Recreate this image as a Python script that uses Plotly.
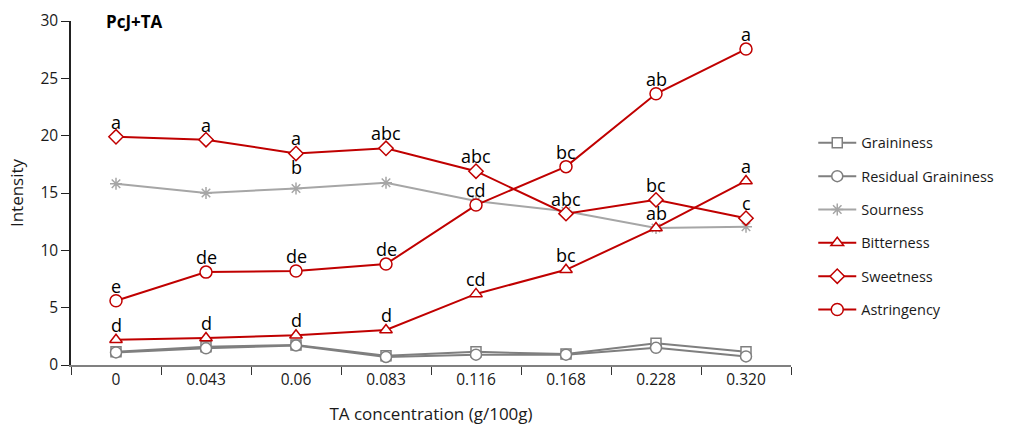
import plotly.graph_objects as go

categories = ["0", "0.043", "0.06", "0.083", "0.116", "0.168", "0.228", "0.320"]

graininess = [1.15, 1.6, 1.75, 0.8, 1.15, 0.95, 1.9, 1.15]
residual_graininess = [1.1, 1.45, 1.7, 0.7, 0.9, 0.9, 1.5, 0.75]
sourness = [15.8, 15.0, 15.4, 15.9, 14.3, 13.4, 11.95, 12.05]
bitterness = [2.2, 2.35, 2.6, 3.05, 6.2, 8.3, 11.95, 16.05]
sweetness = [19.9, 19.65, 18.45, 18.9, 16.9, 13.2, 14.4, 12.8]
astringency = [5.6, 8.1, 8.2, 8.8, 13.95, 17.3, 23.65, 27.55]

bitterness_letters = ["d", "d", "d", "d", "cd", "bc", "ab", "a"]
sweetness_letters = ["a", "a", "a", "abc", "abc", "abc", "bc", "c"]
astringency_letters = ["e", "de", "de", "de", "cd", "bc", "ab", "a"]
extra_label_cat = "0.06"
extra_label_text = "b"

RED = "#C00000"
GRAY = "#7F7F7F"
LGRAY = "#A6A6A6"
FONT = "Open Sans"
TXT = "#1a1a1a"

series = [
    ("Graininess", graininess, GRAY, "square", 10),
    ("Residual Graininess", residual_graininess, GRAY, "circle", 11),
    ("Sourness", sourness, LGRAY, "asterisk-open", 10),
    ("Bitterness", bitterness, RED, "triangle-up", 11),
    ("Sweetness", sweetness, RED, "diamond", 11),
    ("Astringency", astringency, RED, "circle", 12),
]

fig = go.Figure()
for i, (name, vals, col, sym, sz) in enumerate(series):
    fig.add_trace(go.Scatter(
        x=categories, y=vals, name=name, mode="lines+markers",
        legendgroup=f"g{i}",
        line=dict(color=col, width=2),
        marker=dict(symbol=sym, size=sz, color="white" if "asterisk" not in sym else col,
                    line=dict(color=col, width=1.5)),
    ))

annotations = []
for vals, letters in [(sweetness, sweetness_letters), (astringency, astringency_letters),
                      (bitterness, bitterness_letters)]:
    for idx, (v, t) in enumerate(zip(vals, letters)):
        annotations.append(dict(x=idx, y=v, xref="x", yref="y", text=t, showarrow=False,
                                yanchor="bottom", yshift=1,
                                font=dict(family=FONT, size=18, color="black")))
ei = categories.index(extra_label_cat)
annotations.append(dict(x=ei, y=sweetness[ei],
                        xref="x", yref="y", text=extra_label_text, showarrow=False,
                        yanchor="top", yshift=0,
                        font=dict(family=FONT, size=18, color="black")))
annotations.append(dict(x=0.046, y=1.0, xref="paper", yref="paper", text="<b>PcJ+TA</b>",
                        showarrow=False, xanchor="left", yanchor="middle",
                        font=dict(family=FONT, size=17, color="black")))

fig.update_layout(
    width=1009, height=430,
    margin=dict(l=71, r=218, t=21, b=65),
    paper_bgcolor="white", plot_bgcolor="white",
    font=dict(family=FONT, size=15, color=TXT),
    annotations=annotations,
    legend=dict(xref="container", yref="container", x=0.806, y=0.705,
                xanchor="left", yanchor="top",
                tracegroupgap=11.5, itemwidth=38, traceorder="grouped",
                font=dict(family=FONT, size=14.5, color=TXT),
                bgcolor="rgba(0,0,0,0)"),
    showlegend=True,
)
fig.update_xaxes(
    type="category", range=[-0.5, 7.5], automargin=False,
    showline=True, linecolor="#808080", linewidth=1.5,
    ticks="outside", tickson="boundaries", ticklen=8, tickcolor="#333333", tickwidth=1.2,
    showgrid=False, zeroline=False,
    title=dict(text="TA concentration (g/100g)", font=dict(family=FONT, size=17, color=TXT), standoff=19),
    tickfont=dict(family=FONT, size=15.5, color=TXT),
)
fig.update_yaxes(
    range=[0, 30], dtick=5, automargin=False,
    showline=True, linecolor="#222222", linewidth=1.5,
    ticks="outside", ticklen=8, tickcolor="#222222",
    showgrid=False, zeroline=False,
    title=dict(text="Intensity", font=dict(family=FONT, size=17, color=TXT), standoff=12),
    tickfont=dict(family=FONT, size=15.5, color=TXT),
)

fig.write_html("out.html")
